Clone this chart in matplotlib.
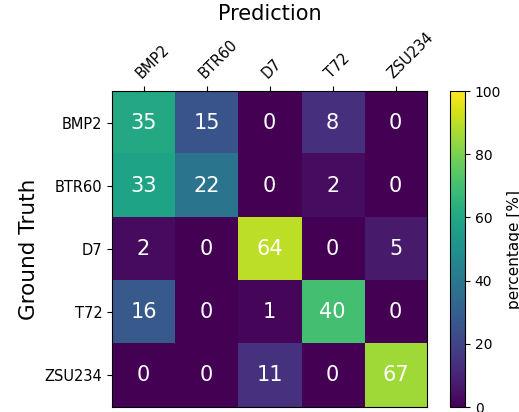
import numpy as np
import matplotlib
matplotlib.use("Agg")
import matplotlib.pyplot as plt

classes = ["BMP2", "BTR60", "D7", "T72", "ZSU234"]
counts = np.array([
    [35, 15, 0, 8, 0],
    [33, 22, 0, 2, 0],
    [2, 0, 64, 0, 5],
    [16, 0, 1, 40, 0],
    [0, 0, 11, 0, 67],
])

pct = counts / counts.sum(axis=1, keepdims=True) * 100

fig = plt.figure(figsize=(5.19, 4.12), dpi=100)
ax = fig.add_axes([0.216, 0.012, 0.607, 0.767])
cax = fig.add_axes([0.867, 0.012, 0.029, 0.767])

im = ax.imshow(pct, cmap="viridis", vmin=0, vmax=100, aspect="auto")
n = len(classes)
ax.set_xticks(range(n))
ax.set_yticks(range(n))
ax.set_xticklabels(classes, rotation=45, ha="left", rotation_mode="anchor", fontsize=10.5)
ax.set_yticklabels(classes, fontsize=10.5)
ax.xaxis.tick_top()
ax.xaxis.set_label_position("top")
ax.set_xlabel("Prediction", fontsize=15, labelpad=7)
ax.set_ylabel("Ground Truth", fontsize=15.5)

for i in range(n):
    for j in range(n):
        ax.text(j, i, str(counts[i, j]), ha="center", va="center",
                color="white", fontsize=15)

cb = fig.colorbar(im, cax=cax)
cb.set_label("percentage [%]", fontsize=11)
cb.set_ticks([0, 20, 40, 60, 80, 100])
cb.ax.tick_params(labelsize=10)

fig.savefig("out.png", dpi=100)
